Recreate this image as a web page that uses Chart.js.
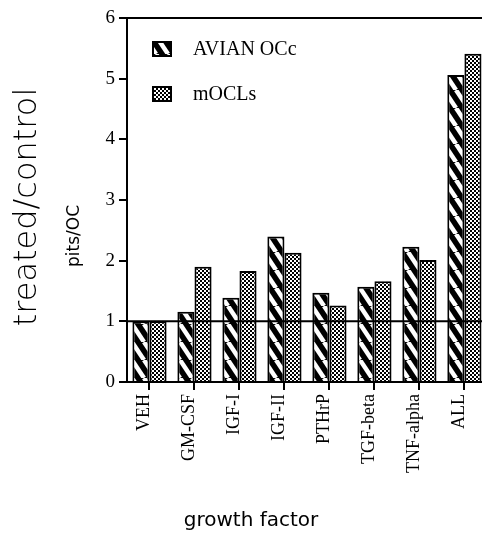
<!DOCTYPE html>
<html>
<head>
<meta charset="utf-8">
<script src="https://cdn.jsdelivr.net/npm/chart.js@4"></script>
<style>
  body { margin: 0; background: #fff; overflow: hidden; }
  .wrap { width: 482px; height: 533px; overflow: hidden; }
</style>
</head>
<body>
<div class="wrap">
  <canvas id="chart" width="490" height="533"></canvas>
</div>
<script>
const categories = ['VEH', 'GM-CSF', 'IGF-I', 'IGF-II', 'PTHrP', 'TGF-beta', 'TNF-alpha', 'ALL'];
const avianOCc = [1.0, 1.16, 1.39, 2.40, 1.47, 1.57, 2.23, 5.06];
const mOCLs = [1.0, 1.90, 1.83, 2.13, 1.26, 1.66, 2.01, 5.41];
const seriesNames = ['AVIAN OCc', 'mOCLs'];
const yTicks = [0, 1, 2, 3, 4, 5, 6];
const controlLevel = 1;

// hatch fill: black with white "\" stripes
function stripePattern() {
    const c = document.createElement('canvas');
    c.width = 12; c.height = 18;
    const g = c.getContext('2d');
    g.fillStyle = '#000';
    g.fillRect(0, 0, 12, 18);
    g.strokeStyle = '#fff';
    g.lineWidth = 4.5;
    for (let k = -1; k <= 1; k++) {
        g.beginPath();
        g.moveTo(k * 12, 0);
        g.lineTo(k * 12 + 12, 18);
        g.stroke();
    }
    return g.createPattern(c, 'repeat');
}

// fine checker fill
function dotPattern() {
    const c = document.createElement('canvas');
    c.width = 4; c.height = 4;
    const g = c.getContext('2d');
    g.fillStyle = '#fff';
    g.fillRect(0, 0, 4, 4);
    g.fillStyle = '#000';
    g.fillRect(0, 0, 2, 2);
    g.fillRect(2, 2, 2, 2);
    return g.createPattern(c, 'repeat');
}

const fills = [stripePattern(), dotPattern()];

const extras = {
    id: 'extras',
    afterDatasetsDraw(chart) {
        const ctx = chart.ctx;
        const a = chart.chartArea;
        const y = chart.scales.y.getPixelForValue(controlLevel);
        ctx.save();
        ctx.strokeStyle = '#000';
        ctx.lineWidth = 2;
        ctx.beginPath();
        ctx.moveTo(a.left, y);
        ctx.lineTo(a.right, y);
        ctx.moveTo(a.left, a.top);
        ctx.lineTo(a.right, a.top);
        ctx.stroke();
        ctx.restore();
    },
    afterDraw(chart) {
        const ctx = chart.ctx;
        const a = chart.chartArea;
        ctx.save();
        // legend
        seriesNames.forEach((name, i) => {
            const bx = a.left + 26, by = a.top + 24 + i * 45;
            ctx.fillStyle = fills[i];
            ctx.fillRect(bx, by, 18, 14);
            ctx.strokeStyle = '#000';
            ctx.lineWidth = 2;
            ctx.strokeRect(bx, by, 18, 14);
            ctx.fillStyle = '#000';
            ctx.font = '20px "Liberation Serif", serif';
            ctx.textAlign = 'left';
            ctx.textBaseline = 'middle';
            ctx.fillText(name, bx + 40, by + 8);
        });
        // axis titles
        ctx.fillStyle = '#000';
        ctx.textAlign = 'center';
        ctx.textBaseline = 'middle';
        ctx.save();
        ctx.translate(28, 207);
        ctx.rotate(-Math.PI / 2);
        ctx.font = '200 32px "DejaVu Sans", sans-serif';
        ctx.fillText('treated/control', 0, 0);
        ctx.restore();
        ctx.save();
        ctx.translate(75, 236);
        ctx.rotate(-Math.PI / 2);
        ctx.font = '17px "DejaVu Sans", sans-serif';
        ctx.fillText('pits/OC', 0, 0);
        ctx.restore();
        ctx.font = '20px "DejaVu Sans", sans-serif';
        ctx.fillText('growth factor', 251, 521);
        ctx.restore();
    }
};

new Chart(document.getElementById('chart'), {
    type: 'bar',
    data: {
        labels: categories,
        datasets: [
            { label: seriesNames[0], data: avianOCc, backgroundColor: fills[0], borderColor: '#000', borderWidth: 2 },
            { label: seriesNames[1], data: mOCLs, backgroundColor: fills[1], borderColor: '#000', borderWidth: 2 }
        ]
    },
    options: {
        responsive: false,
        animation: false,
        layout: { padding: { top: 18, left: 0, right: 0, bottom: 0 } },
        datasets: { bar: { barPercentage: 1, categoryPercentage: 0.76 } },
        plugins: {
            legend: { display: false },
            tooltip: { enabled: false }
        },
        scales: {
            x: {
                afterFit: s => { s.height = 151; },
                grid: { drawOnChartArea: false, offset: false, tickLength: 8, color: '#000', lineWidth: 2 },
                border: { color: '#000', width: 2 },
                ticks: {
                    color: '#000',
                    minRotation: 90,
                    maxRotation: 90,
                    labelOffset: -5,
                    padding: 4,
                    font: { family: '"Liberation Serif", serif', size: 18 }
                }
            },
            y: {
                min: 0,
                max: 6,
                afterFit: s => { s.width = 127; },
                afterBuildTicks: s => { s.ticks = yTicks.map(v => ({ value: v })); },
                grid: { drawOnChartArea: false, tickLength: 8, color: '#000', lineWidth: 2 },
                border: { color: '#000', width: 2 },
                ticks: {
                    color: '#000',
                    padding: 4,
                    font: { family: '"Liberation Serif", serif', size: 19 }
                }
            }
        }
    },
    plugins: [extras]
});
</script>
</body>
</html>
